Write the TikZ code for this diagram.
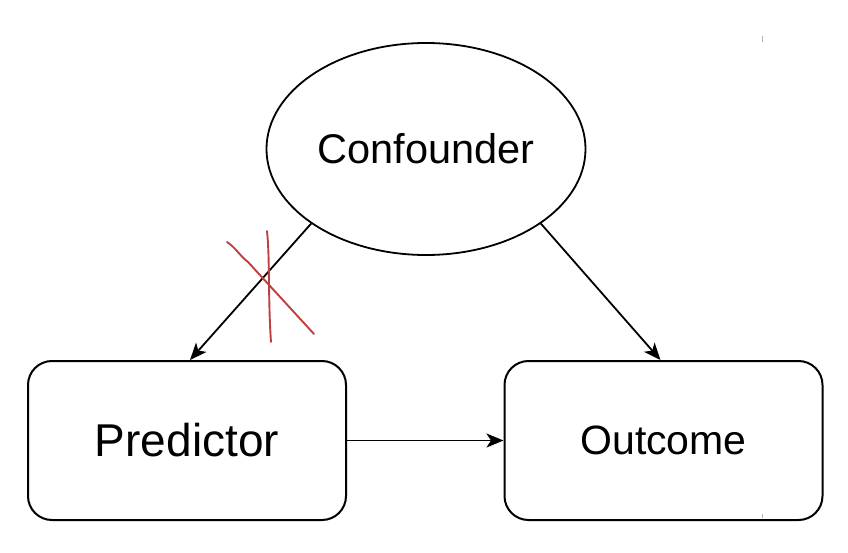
\documentclass[tikz,border=0pt]{standalone}
\usepackage{fontspec}
\setmainfont{Liberation Sans}
\usetikzlibrary{shapes.geometric,arrows.meta,calc}
\definecolor{crossred}{RGB}{192,64,64}
\tikzset{
  boxnode/.style={draw, line width=2pt, rounded corners=24pt, minimum width=318pt, minimum height=159pt, inner sep=0pt},
  ellnode/.style={ellipse, draw, line width=1.8pt, minimum width=319pt, minimum height=212pt, inner sep=0pt},
  conn/.style={line width=1.8pt, -{Stealth[length=17pt,width=14pt,inset=4.5pt]}},
  strike/.style={crossred, line width=1.9pt, line cap=round},
}
\begin{document}
\begin{tikzpicture}[x=1pt,y=-1pt]
\useasboundingbox (0,0) rectangle (848,553);
\fill[white] (0,0) rectangle (848,553);
\node[ellnode, font=\fontsize{41.5}{48}\selectfont] (conf) at (426,149) {Confounder};
\node[boxnode, font=\fontsize{46}{52}\selectfont] (pred) at (187,440.5) {Predictor};
\node[boxnode, font=\fontsize{41}{48}\selectfont] (out) at (663.5,440.5) {Outcome};
\draw[conn] (conf.213) -- ($(pred.north)+(3,0)$);
\draw[conn] (conf.327) -- ($(out.north)+(-3,0)$);
\draw[conn] (pred.east) -- (out.west);
\coordinate (c1a) at (227,242);
\coordinate (c1b) at (314,334);
\coordinate (c2a) at (267,231);
\coordinate (c2b) at (271,342);
\draw[strike] (c1a) .. controls (236,248) and (240,256) .. (248,262) -- (c1b);
\draw[strike] (c2a) .. controls (270,260) and (268,300) .. (c2b);
\coordinate (t1a) at (762,36);
\coordinate (t1b) at (762,42);
\coordinate (t2a) at (762,514);
\coordinate (t2b) at (762,518);
\draw[gray!60, line width=1pt] (t1a) -- (t1b);
\draw[gray!60, line width=1pt] (t2a) -- (t2b);
\end{tikzpicture}
\end{document}
